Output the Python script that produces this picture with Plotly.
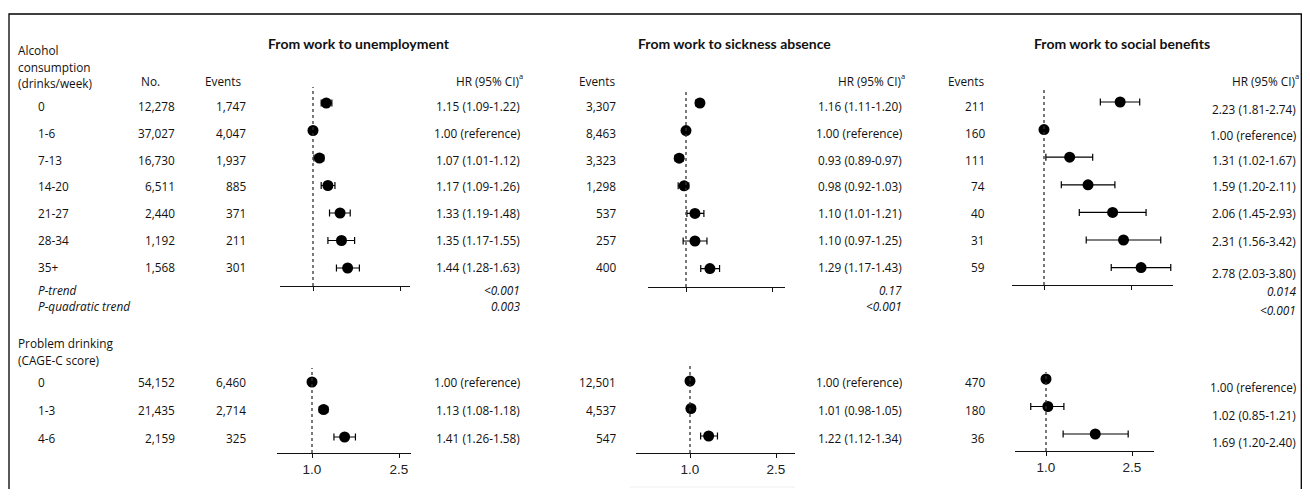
import plotly.graph_objects as go
import math

# page offset (browser body margin) and figure size (kept small enough to avoid scrollbars)
OX, OY = 8, 8
W, H = 1294, 481

# ---------------- data ----------------
alc_cats = ["0", "1-6", "7-13", "14-20", "21-27", "28-34", "35+"]
alc_no = ["12,278", "37,027", "16,730", "6,511", "2,440", "1,192", "1,568"]

unemp_events = ["1,747", "4,047", "1,937", "885", "371", "211", "301"]
unemp_hr = [1.15, 1.00, 1.07, 1.17, 1.33, 1.35, 1.44]
unemp_lo = [1.09, 1.00, 1.01, 1.09, 1.19, 1.17, 1.28]
unemp_hi = [1.22, 1.00, 1.12, 1.26, 1.48, 1.55, 1.63]
unemp_p = ["<0.001", "0.003"]

sick_events = ["3,307", "8,463", "3,323", "1,298", "537", "257", "400"]
sick_hr = [1.16, 1.00, 0.93, 0.98, 1.10, 1.10, 1.29]
sick_lo = [1.11, 1.00, 0.89, 0.92, 1.01, 0.97, 1.17]
sick_hi = [1.20, 1.00, 0.97, 1.03, 1.21, 1.25, 1.43]
sick_p = ["0.17", "<0.001"]

soc_events = ["211", "160", "111", "74", "40", "31", "59"]
soc_hr = [2.23, 1.00, 1.31, 1.59, 2.06, 2.31, 2.78]
soc_lo = [1.81, 1.00, 1.02, 1.20, 1.45, 1.56, 2.03]
soc_hi = [2.74, 1.00, 1.67, 2.11, 2.93, 3.42, 3.80]
soc_p = ["0.014", "<0.001"]

p_labels = ["P-trend", "P-quadratic trend"]

cage_cats = ["0", "1-3", "4-6"]
cage_no = ["54,152", "21,435", "2,159"]
cage_unemp_events = ["6,460", "2,714", "325"]
cage_unemp_hr = [1.00, 1.13, 1.41]
cage_unemp_lo = [1.00, 1.08, 1.26]
cage_unemp_hi = [1.00, 1.18, 1.58]
cage_sick_events = ["12,501", "4,537", "547"]
cage_sick_hr = [1.00, 1.01, 1.22]
cage_sick_lo = [1.00, 0.98, 1.12]
cage_sick_hi = [1.00, 1.05, 1.34]
cage_soc_events = ["470", "180", "36"]
cage_soc_hr = [1.00, 1.02, 1.69]
cage_soc_lo = [1.00, 0.85, 1.20]
cage_soc_hi = [1.00, 1.21, 2.40]

titles = ["From work to unemployment", "From work to sickness absence", "From work to social benefits"]
hr_header = "HR (95% CI)"
hr_note = "a"
tick_vals = [1.0, 2.5]
tick_text = ["1.0", "2.5"]

# ---------------- layout constants (page pixels) ----------------
TXT = "Open Sans"
TITLEF = "Lato"
TICKF = "Liberation Sans"
FS = 11.8


def fx(px):
    return (px - OX) / W


def fy(py):
    return 1 - (py - OY) / H


# subplot geometry: x domain px, px of 1.0, px of 2.5, y domain px, first-row px, row step
geo = [
    dict(x0=280, x1=410, one=313, two=400, y0=87, y1=286, row0=103, step=27.5),   # unemp top
    dict(x0=277, x1=411, one=312, two=399, y0=368, y1=453, row0=382, step=27.5),  # unemp bottom
    dict(x0=648, x1=785, one=686, two=772, y0=89, y1=287, row0=103, step=27.6),   # sick top
    dict(x0=636, x1=795, one=690, two=776, y0=365, y1=453, row0=381, step=27.5),  # sick bottom
    dict(x0=1012, x1=1173, one=1044, two=1131, y0=90, y1=285, row0=102, step=27.6),  # soc top
    dict(x0=1015, x1=1154, one=1046, two=1132, y0=372, y1=451, row0=379, step=27.5),  # soc bottom
]

series = [
    (unemp_hr, unemp_lo, unemp_hi),
    (cage_unemp_hr, cage_unemp_lo, cage_unemp_hi),
    (sick_hr, sick_lo, sick_hi),
    (cage_sick_hr, cage_sick_lo, cage_sick_hi),
    (soc_hr, soc_lo, soc_hi),
    (cage_soc_hr, cage_soc_lo, cage_soc_hi),
]
cats_for = [alc_cats, cage_cats, alc_cats, cage_cats, alc_cats, cage_cats]

fig = go.Figure()
layout = dict(
    width=W, height=H, margin=dict(l=0, r=0, t=0, b=0),
    paper_bgcolor="white", plot_bgcolor="white", showlegend=False,
)
shapes = []
annotations = []

for i, (g, (hr, lo, hi), cats) in enumerate(zip(geo, series, cats_for)):
    n = i + 1
    xa = "xaxis" if n == 1 else f"xaxis{n}"
    ya = "yaxis" if n == 1 else f"yaxis{n}"
    xr = "x" if n == 1 else f"x{n}"
    yr = "y" if n == 1 else f"y{n}"
    ppd = (g["two"] - g["one"]) / math.log10(2.5)  # px per log10 unit
    lrange = [(g["x0"] - g["one"]) / ppd, (g["x1"] - g["one"]) / ppd]
    yrange = [(g["y1"] - g["row0"]) / g["step"], (g["y0"] - g["row0"]) / g["step"]]
    is_bottom = (i % 2 == 1)
    xdict = dict(
        domain=[fx(g["x0"]), fx(g["x1"])], anchor=yr, type="log", range=lrange,
        showline=True, linecolor="#111", linewidth=1, ticks="outside", ticklen=4,
        tickcolor="#111", tickvals=tick_vals, showgrid=False, zeroline=False,
        fixedrange=True,
    )
    if is_bottom:
        xdict.update(ticktext=tick_text, showticklabels=True,
                     tickfont=dict(family=TICKF, size=13.5, color="#222"))
    else:
        xdict.update(showticklabels=False)
    layout[xa] = xdict
    layout[ya] = dict(
        domain=[fy(g["y1"]), fy(g["y0"])], anchor=xr, range=yrange,
        visible=False, showgrid=False, zeroline=False, fixedrange=True,
    )
    ypos = list(range(len(cats)))
    fig.add_trace(go.Scatter(
        x=hr, y=ypos, xaxis=xr, yaxis=yr, mode="markers",
        marker=dict(size=11, color="black"),
        error_x=dict(type="data", symmetric=False,
                     array=[h - m for h, m in zip(hi, hr)],
                     arrayminus=[m - l for m, l in zip(hr, lo)],
                     color="black", thickness=1.2, width=3.5),
        text=cats, hoverinfo="text+x",
    ))
    shapes.append(dict(type="line", xref=xr, x0=1, x1=1, yref=f"{yr} domain", y0=0, y1=1,
                       line=dict(color="#333", width=1.3, dash="3px,3px")))

# border (bottom edge lies below the visible page)
shapes.append(dict(type="rect", xref="paper", yref="paper", x0=fx(9), x1=fx(1301.3),
                   y0=-0.05, y1=fy(14), line=dict(color="black", width=1.3)))
shapes.append(dict(type="line", xref="paper", yref="paper", x0=fx(630), x1=fx(795),
                   y0=fy(487), y1=fy(487), line=dict(color="#eeeeee", width=1)))


def txt(x, y, s, anchor="left", size=FS, family=TXT, color="#111"):
    annotations.append(dict(
        x=fx(x), y=fy(y), xref="paper", yref="paper", text=s, showarrow=False,
        xanchor=anchor, yanchor="middle", font=dict(family=family, size=size, color=color),
    ))


def header(xr, y):
    # "HR (95% CI)" with a superscript note marker
    txt(xr - 3, y, hr_header, "right")
    txt(xr + 1, y - 5, hr_note, "right", size=7.5)


def hr_text(h, l, u):
    if h == l == u:
        return f"{h:.2f} (reference)"
    return f"{h:.2f} ({l:.2f}-{u:.2f})"


# row text positions
alc_rows = [106 + 26.8 * k for k in range(len(alc_cats))]
p_rows = [290, 306]
cage_rows = [382, 410, 438]
soc_alc_rows = [109, 135, 160, 186, 213, 241, 273]
soc_p_rows = [291, 310]
soc_cage_rows = [387, 415, 442]

# left column
txt(16, 50, "Alcohol")
txt(16, 67, "consumption")
txt(16, 83, "(drinks/week)")
txt(139, 81, "No.")
txt(203, 81, "Events")
for k, c in enumerate(alc_cats):
    txt(36, alc_rows[k], c)
    txt(177, alc_rows[k], alc_no[k], "right")
    txt(248, alc_rows[k], unemp_events[k], "right")
for k, p in enumerate(p_labels):
    txt(36, p_rows[k], f"<i>{p}</i>")
txt(16, 343, "Problem drinking")
txt(16, 360, "(CAGE-C score)")
for k, c in enumerate(cage_cats):
    txt(36, cage_rows[k], c)
    txt(177, cage_rows[k], cage_no[k], "right")
    txt(248, cage_rows[k], cage_unemp_events[k], "right")

# titles
txt(266, 43, f"<b>{titles[0]}</b>", size=14, family=TITLEF)
txt(636, 43, f"<b>{titles[1]}</b>", size=14, family=TITLEF)
txt(1032, 43, f"<b>{titles[2]}</b>", size=14, family=TITLEF)

# unemployment HR column
header(524, 81)
for k in range(len(alc_cats)):
    txt(522, alc_rows[k], hr_text(unemp_hr[k], unemp_lo[k], unemp_hi[k]), "right")
for k, p in enumerate(unemp_p):
    txt(522, p_rows[k], f"<i>{p}</i>", "right")
for k in range(len(cage_cats)):
    txt(522, cage_rows[k], hr_text(cage_unemp_hr[k], cage_unemp_lo[k], cage_unemp_hi[k]), "right")

# sickness columns
txt(618, 81, "Events", "right")
header(906, 81)
for k in range(len(alc_cats)):
    txt(618, alc_rows[k], sick_events[k], "right")
    txt(904, alc_rows[k], hr_text(sick_hr[k], sick_lo[k], sick_hi[k]), "right")
for k, p in enumerate(sick_p):
    txt(904, p_rows[k], f"<i>{p}</i>", "right")
for k in range(len(cage_cats)):
    txt(618, cage_rows[k], cage_sick_events[k], "right")
    txt(904, cage_rows[k], hr_text(cage_sick_hr[k], cage_sick_lo[k], cage_sick_hi[k]), "right")

# social benefits columns
txt(987, 81, "Events", "right")
header(1300, 81)
for k in range(len(alc_cats)):
    txt(987, alc_rows[k], soc_events[k], "right")
    txt(1298, soc_alc_rows[k], hr_text(soc_hr[k], soc_lo[k], soc_hi[k]), "right")
for k, p in enumerate(soc_p):
    txt(1298, soc_p_rows[k], f"<i>{p}</i>", "right")
for k in range(len(cage_cats)):
    txt(987, cage_rows[k], cage_soc_events[k], "right")
    txt(1298, soc_cage_rows[k], hr_text(cage_soc_hr[k], cage_soc_lo[k], cage_soc_hi[k]), "right")

layout["shapes"] = shapes
layout["annotations"] = annotations
fig.update_layout(**layout)
fig.write_html("out.html")
